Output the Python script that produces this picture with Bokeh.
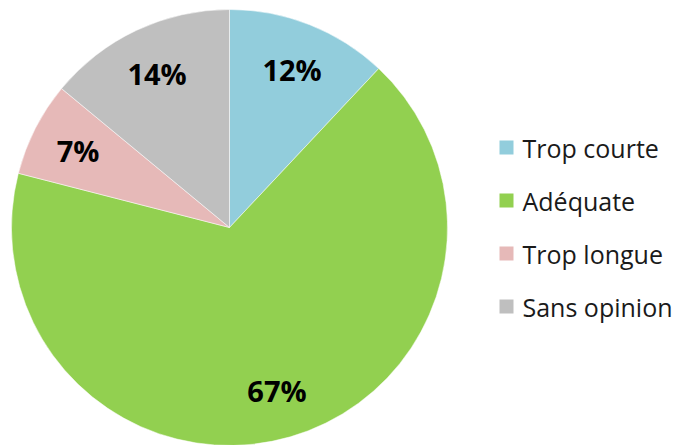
import numpy as np
from bokeh.plotting import figure
from bokeh.models import Range1d, ColumnDataSource
from bokeh.core.properties import value
from bokeh.embed import file_html
from bokeh.resources import INLINE

categories = ["Trop courte", "Adéquate", "Trop longue", "Sans opinion"]
values = [12, 67, 7, 14]
labels = ["12%", "67%", "7%", "14%"]
colors = ["#92CDDC", "#92D050", "#E6B9B8", "#BFBFBF"]

W, H = 678, 445
cx, cy = 229, H - 227
R = 218

vals = np.array(values, dtype=float)
frac = vals / vals.sum()
cum = np.concatenate([[0], np.cumsum(frac)])
start = np.pi / 2 - 2 * np.pi * cum[:-1]
end = np.pi / 2 - 2 * np.pi * cum[1:]
mid = (start + end) / 2

src = ColumnDataSource(dict(start=start, end=end, color=colors, cat=categories))

p = figure(width=W, height=H, x_range=Range1d(0, W), y_range=Range1d(0, H),
           output_backend="svg", toolbar_location=None, min_border=0)
p.axis.visible = False
p.grid.visible = False
p.outline_line_color = None
p.background_fill_color = "white"

p.wedge(x=cx, y=cy, radius=R, start_angle="start", end_angle="end",
        direction="clock", fill_color="color", line_color="white",
        line_width=0.5, source=src)

lr = 0.78 * R
lsrc = ColumnDataSource(dict(x=cx + lr * np.cos(mid), y=cy + lr * np.sin(mid), t=labels))
p.text(x="x", y="y", text="t", source=lsrc, text_font=value("Open Sans"),
       text_font_style="bold", text_font_size="29px", text_align="center",
       text_baseline="middle", text_color="black")

# legend
row0 = H - 147
step = 53
ly = row0 - step * np.arange(len(categories))
legsrc = ColumnDataSource(dict(y=ly, color=colors, cat=categories))
p.rect(x=506, y="y", width=14, height=14, fill_color="color", line_color=None, source=legsrc)
p.text(x=522, y="y", text="cat", source=legsrc, text_font=value("Open Sans"),
       text_font_size="25px", text_align="left", text_baseline="middle",
       text_color="#1a1a1a")

open("out.html", "w").write(file_html(p, INLINE))
